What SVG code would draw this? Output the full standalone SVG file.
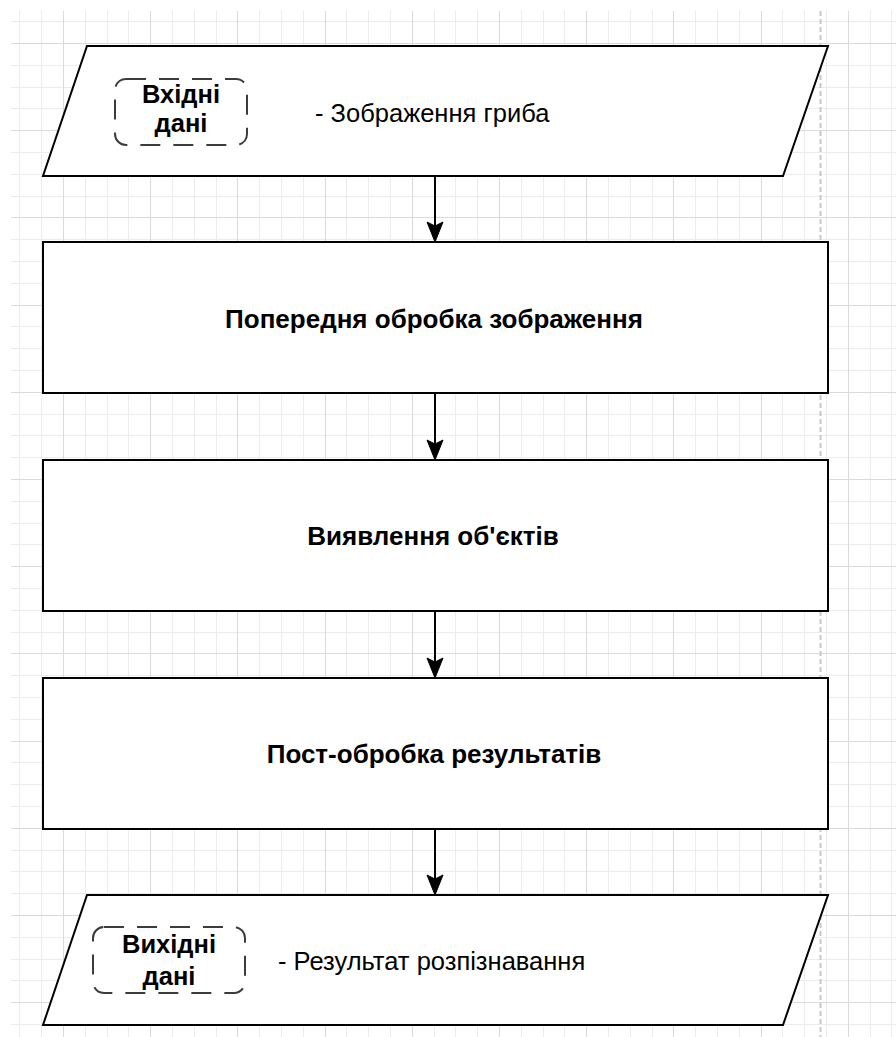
<svg xmlns="http://www.w3.org/2000/svg" width="896" height="1037" viewBox="0 0 896 1037">
  <style>
    .minor { stroke: #ececec; stroke-width: 1; fill: none; }
    .major { stroke: #dadada; stroke-width: 1; fill: none; }
    .guide { stroke: #c8c8c8; stroke-width: 2; stroke-dasharray: 5 3; fill: none; }
    .shape { fill: #ffffff; stroke: #000000; stroke-width: 2; }
    .tag { fill: none; stroke: #3c3c3c; stroke-width: 2; stroke-dasharray: 20 13; }
    .edge { stroke: #000000; stroke-width: 2; fill: none; }
    .head { fill: #000000; stroke: #000000; stroke-width: 1; stroke-linejoin: miter; }
    .title { font-family: "Liberation Sans", Arial, sans-serif; font-weight: bold; font-size: 26px; fill: #000000; text-anchor: middle; }
    .label { font-family: "Liberation Sans", Arial, sans-serif; font-weight: bold; font-size: 25.5px; fill: #000000; text-anchor: middle; }
    .note { font-family: "Liberation Sans", Arial, sans-serif; font-size: 25.5px; fill: #000000; }
  </style>

  <rect x="0" y="0" width="896" height="1037" fill="#ffffff"/>

  <!-- background grid -->
  <g id="grid">
    <path class="minor" d="M19.5 11V1037M41.5 11V1037M85.5 11V1037M107.5 11V1037M128.5 11V1037M172.5 11V1037M194.5 11V1037M216.5 11V1037M259.5 11V1037M281.5 11V1037M303.5 11V1037M346.5 11V1037M368.5 11V1037M390.5 11V1037M434.5 11V1037M455.5 11V1037M477.5 11V1037M521.5 11V1037M543.5 11V1037M564.5 11V1037M608.5 11V1037M630.5 11V1037M652.5 11V1037M695.5 11V1037M717.5 11V1037M739.5 11V1037M782.5 11V1037M804.5 11V1037M826.5 11V1037M870.5 11V1037M891.5 11V1037
      M11 21.5H896M11 65.5H896M11 87.5H896M11 108.5H896M11 152.5H896M11 174.5H896M11 196.5H896M11 239.5H896M11 261.5H896M11 283.5H896M11 326.5H896M11 348.5H896M11 370.5H896M11 414.5H896M11 435.5H896M11 457.5H896M11 501.5H896M11 523.5H896M11 544.5H896M11 588.5H896M11 610.5H896M11 632.5H896M11 675.5H896M11 697.5H896M11 719.5H896M11 762.5H896M11 784.5H896M11 806.5H896M11 850.5H896M11 871.5H896M11 893.5H896M11 937.5H896M11 959.5H896M11 980.5H896M11 1024.5H896"/>
    <path class="major" d="M63.5 11V1037M150.5 11V1037M237.5 11V1037M325.5 11V1037M412.5 11V1037M499.5 11V1037M586.5 11V1037M673.5 11V1037M761.5 11V1037M848.5 11V1037
      M11 43.5H896M11 130.5H896M11 217.5H896M11 305.5H896M11 392.5H896M11 479.5H896M11 566.5H896M11 653.5H896M11 741.5H896M11 828.5H896M11 915.5H896M11 1002.5H896"/>
    <path class="guide" d="M820.5 11V1037"/>
  </g>

  <!-- connectors -->
  <g id="connectors">
    <path class="edge" d="M435 177V226"/>
    <path class="head" d="M435 242L427 222L435 226L443 222Z"/>
    <path class="edge" d="M435 394V444"/>
    <path class="head" d="M435 460L427 440L435 444L443 440Z"/>
    <path class="edge" d="M435 612V662"/>
    <path class="head" d="M435 678L427 658L435 662L443 658Z"/>
    <path class="edge" d="M435 830V879"/>
    <path class="head" d="M435 895L427 875L435 879L443 875Z"/>
  </g>

  <!-- input data -->
  <g id="input">
    <polygon class="shape" points="87,46 828,46 783,176 43,176"/>
    <rect class="tag" x="115" y="79" width="132" height="66" rx="11" ry="11"/>
    <text class="label" x="181" y="103">Вхідні</text>
    <text class="label" x="181" y="132">дані</text>
    <text class="note" x="315" y="122">- Зображення гриба</text>
  </g>

  <!-- preprocessing -->
  <g id="preprocess">
    <rect class="shape" x="43" y="242" width="785" height="151"/>
    <text class="title" x="434" y="328">Попередня обробка зображення</text>
  </g>

  <!-- detection -->
  <g id="detect">
    <rect class="shape" x="43" y="460" width="785" height="151"/>
    <text class="title" x="433" y="545">Виявлення об'єктів</text>
  </g>

  <!-- post-processing -->
  <g id="postprocess">
    <rect class="shape" x="43" y="678" width="785" height="151"/>
    <text class="title" x="434" y="763">Пост-обробка результатів</text>
  </g>

  <!-- output data -->
  <g id="output">
    <polygon class="shape" points="87,895 828,895 783,1025 43,1025"/>
    <rect class="tag" x="93" y="927" width="152" height="66" rx="11" ry="11"/>
    <text class="label" x="169" y="953">Вихідні</text>
    <text class="label" x="169" y="985">дані</text>
    <text class="note" x="278" y="970">- Результат розпізнавання</text>
  </g>
</svg>
